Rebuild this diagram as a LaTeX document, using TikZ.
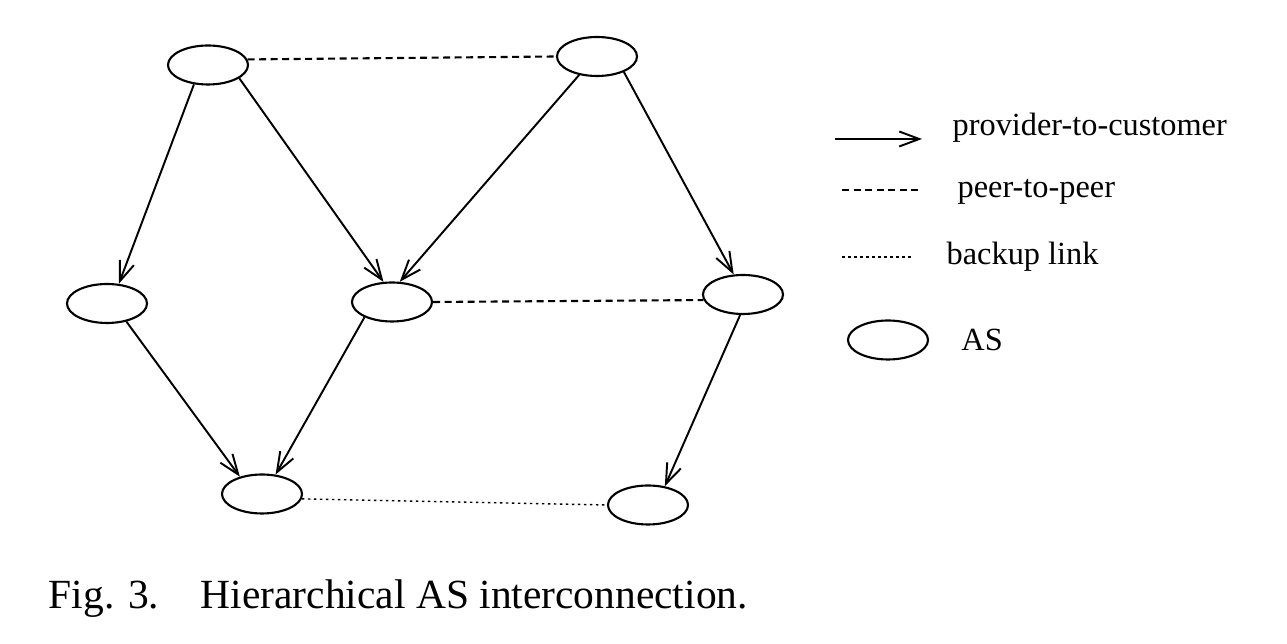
\documentclass[tikz,border=0pt]{standalone}
\usepackage{fontspec}
\setmainfont{Liberation Serif}
\usetikzlibrary{positioning,arrows.meta,shapes.geometric}

\begin{document}
\begin{tikzpicture}[
	as/.style={draw, ellipse, line width=0.6pt, minimum width=0.8cm, minimum height=0.39cm, inner sep=0pt},
	pc/.style={-{Straight Barb[length=2mm,width=1.5mm]}, line width=0.55pt},
	pp/.style={line width=0.6pt, dash pattern=on 0.7mm off 0.45mm},
	bk/.style={line width=0.4pt, dash pattern=on 0.25mm off 0.35mm},
	keytext/.style={font=\fontsize{9.2}{11}\selectfont, inner sep=0pt, anchor=base west}
]
	\useasboundingbox (0,0) rectangle (12.87,6.44);

	\node[as] (tl) at (2.08,5.79) {};
	\node[as] (tr) at (5.97,5.875) {};
	\node[as] (ml) at (1.07,3.405) {};
	\node[as] (mc) at (3.92,3.42) {};
	\node[as] (mr) at (7.43,3.495) {};
	\node[as] (bl) at (2.62,1.50) {};
	\node[as] (br) at (6.48,1.39) {};

	\draw[pc] (tl.234) -- (ml.59);
	\draw[pc] (tl.337) -- (mc.113);
	\draw[pc] (tr.226) -- (mc.69);
	\draw[pc] (tr.330) -- (mr.115);
	\draw[pc] (ml.317) -- (bl.142);
	\draw[pc] (mc.209) -- (bl.55);
	\draw[pc] (mr.262) -- (br.48);

	\draw[pp] (tl.8) -- (tr.west);
	\draw[pp] (mc.east) -- (mr.188);
	\draw[bk] (bl.353) -- (br.west);

	% key
	\coordinate (k1a) at (8.35,5.05);
	\coordinate (k1b) at (9.22,5.05);
	\coordinate (k2a) at (8.42,4.54);
	\coordinate (k2b) at (9.22,4.54);
	\coordinate (k3a) at (8.42,3.87);
	\coordinate (k3b) at (9.12,3.87);

	\draw[pc] (k1a) -- (k1b);
	\draw[pp] (k2a) -- (k2b);
	\draw[bk] (k3a) -- (k3b);

	\node[keytext] (t1) at (9.52,5.08) {provider-to-customer};
	\node[keytext] (t2) at (9.57,4.46) {peer-to-peer};
	\node[keytext] (t3) at (9.46,3.79) {backup link};

	\node[as] (key) at (8.88,3.04) {};
	\node[right=0.2cm of key, font=\fontsize{9.2}{11}\selectfont] (t4) {AS};

	\node[anchor=base west, font=\fontsize{11.8}{14}\selectfont, inner sep=0pt] (cap) at (0.48,0.35) {Fig. 3.\quad Hierarchical AS interconnection.};
\end{tikzpicture}
\end{document}
